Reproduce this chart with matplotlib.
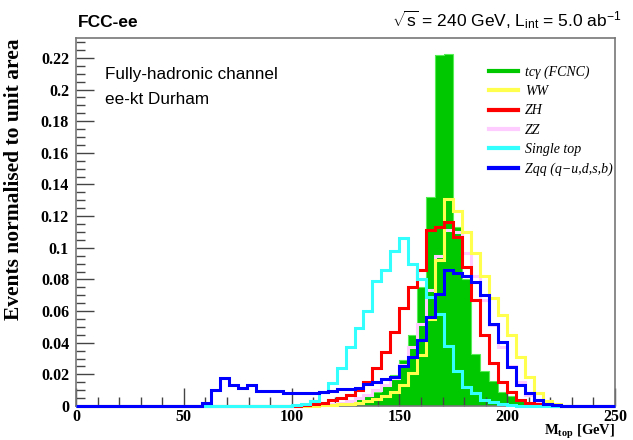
"""FCC-ee top mass distributions, fully-hadronic channel (60 bins, 0-250 GeV)."""

import matplotlib
matplotlib.use("Agg")
import matplotlib.pyplot as plt
import numpy as np

# === Histogram contents (bin k = [k*250/60, (k+1)*250/60]) ===
N_BINS = 60
X_MIN, X_MAX = 0, 250

tcgamma = [0, 0, 0, 0, 0, 0, 0, 0, 0, 0,
           0, 0, 0, 0, 0, 0, 0, 0, 0, 0,
           0, 0, 0, 0, 0, 0, 0, 0, 0.0005, 0.001,
           0.0027, 0.0045, 0.006, 0.009, 0.0133, 0.0196, 0.029, 0.045, 0.075, 0.132,
           0.2216, 0.2222, 0.113, 0.08, 0.033, 0.022, 0.0155, 0.009, 0.006, 0.003,
           0.0015, 0.0005, 0, 0, 0, 0, 0, 0, 0, 0]

ww = [0, 0, 0, 0, 0, 0, 0, 0, 0, 0,
      0, 0, 0, 0, 0, 0, 0, 0, 0, 0,
      0, 0, 0, 0, 0, 0, 0.0003, 0.0005, 0.0008, 0.001,
      0.0015, 0.002, 0.003, 0.0045, 0.006, 0.009, 0.013, 0.021, 0.032, 0.055,
      0.092, 0.1306, 0.123, 0.110, 0.097, 0.082, 0.068, 0.0575, 0.045, 0.031,
      0.0185, 0.008, 0.003, 0.001, 0, 0, 0, 0, 0, 0]

zh = [0, 0, 0, 0, 0, 0, 0, 0, 0, 0,
      0, 0, 0, 0, 0, 0, 0, 0, 0, 0,
      0, 0, 0, 0, 0, 0.0005, 0.001, 0.002, 0.0035, 0.005,
      0.007, 0.010, 0.015, 0.024, 0.034, 0.047, 0.062, 0.075, 0.086, 0.111,
      0.113, 0.116, 0.107, 0.088, 0.067, 0.045, 0.027, 0.0154, 0.009, 0.004,
      0.002, 0.001, 0.0005, 0, 0, 0, 0, 0, 0, 0]

zz = [0, 0, 0, 0, 0, 0, 0, 0, 0, 0,
      0, 0, 0, 0, 0, 0, 0, 0, 0, 0,
      0, 0, 0, 0, 0, 0, 0.0005, 0.001, 0.0015, 0.002,
      0.003, 0.005, 0.007, 0.010, 0.013, 0.018, 0.026, 0.037, 0.052, 0.073,
      0.095, 0.111, 0.110, 0.097, 0.082, 0.067, 0.051, 0.037, 0.025, 0.015,
      0.007, 0.003, 0.001, 0, 0, 0, 0, 0, 0, 0]

single_top = [0, 0, 0, 0, 0, 0, 0, 0, 0, 0,
              0, 0, 0, 0, 0, 0, 0, 0, 0, 0,
              0, 0, 0, 0, 0.0006, 0.0015, 0.003, 0.009, 0.0143, 0.0238,
              0.0375, 0.049, 0.060, 0.079, 0.086, 0.098, 0.106, 0.090, 0.080, 0.069,
              0.058, 0.038, 0.022, 0.012, 0.008, 0.004, 0.0025, 0.001, 0.0005, 0,
              0, 0, 0, 0, 0, 0, 0, 0, 0, 0]

zqq = [0, 0, 0, 0, 0, 0, 0, 0, 0, 0,
       0, 0, 0, 0, 0.002, 0.010, 0.018, 0.0133, 0.0112, 0.0133,
       0.0097, 0.0097, 0.0092, 0.0084, 0.0084, 0.008, 0.0082, 0.0086, 0.0097, 0.011,
       0.011, 0.0115, 0.0137, 0.015, 0.0169, 0.0185, 0.025, 0.031, 0.042, 0.0565,
       0.071, 0.086, 0.084, 0.082, 0.0786, 0.070, 0.052, 0.0406, 0.0249, 0.0133,
       0.008, 0.0038, 0.0013, 0.0006, 0.0003, 0, 0, 0, 0, 0]

LABELS = {
    "tcgamma": "tcγ (FCNC)",
    "ww": "WW",
    "zh": "ZH",
    "zz": "ZZ",
    "single_top": "Single top",
    "zqq": "Zqq (q−u,d,s,b)",
}
COLORS = {
    "tcgamma": "#00c800",
    "ww": "#ffff4d",
    "zh": "#ff0000",
    "zz": "#ffccff",
    "single_top": "#33ffff",
    "zqq": "#0000ff",
}

SERIF = "Liberation Serif"
SANS = "Liberation Sans"
plt.rcParams["mathtext.fontset"] = "custom"
plt.rcParams["mathtext.rm"] = SERIF + ":bold"
plt.rcParams["mathtext.bf"] = SERIF + ":bold"
plt.rcParams["mathtext.it"] = SERIF + ":italic"
plt.rcParams["mathtext.sf"] = SANS

edges = np.linspace(X_MIN, X_MAX, N_BINS + 1)

fig = plt.figure(figsize=(6.33, 4.40), dpi=100)
ax = fig.add_axes([0.1201, 0.0773, 0.8515, 0.8364])

LW = 2.2
ax.stairs(tcgamma, edges, fill=True, color=COLORS["tcgamma"], zorder=1)
ax.stairs(tcgamma, edges, color="#55ee55", lw=0.8, zorder=1.5)
line_order = ["zz", "ww", "zh", "single_top", "zqq"]
series = {"zz": zz, "ww": ww, "zh": zh, "single_top": single_top, "zqq": zqq}
for i, key in enumerate(line_order):
    ax.stairs(series[key], edges, color=COLORS[key], lw=LW, zorder=2 + i,
              clip_on=False)

ax.set_xlim(X_MIN, X_MAX)
ax.set_ylim(0, 0.2326)

ax.set_xticks(np.arange(0, 251, 50))
ax.set_xticks(np.arange(0, 251, 10), minor=True)
ax.set_yticks(np.arange(0, 0.221, 0.02))
ax.set_yticks(np.arange(0, 0.2326, 0.005), minor=True)
ax.set_yticklabels(["0"] + [f"{v:g}" for v in np.arange(0.02, 0.221, 0.02).round(2)])

ax.tick_params(which="both", direction="in", top=False, right=False, color="#444444")
ax.tick_params(which="major", length=13, width=1, labelsize=11.5)
ax.tick_params(axis="x", which="major", pad=2)
ax.tick_params(axis="y", which="major", pad=5)
ax.tick_params(which="minor", length=6.5, width=1)
for lab in ax.get_xticklabels() + ax.get_yticklabels():
    lab.set_family(SERIF)
    lab.set_fontweight("bold")

for sp in ax.spines.values():
    sp.set_color("#777777")
    sp.set_linewidth(1.2)

ax.set_ylabel("Events normalised to unit area", family=SERIF, fontweight="bold",
              fontsize=15.5, loc="top")
ax.yaxis.set_label_coords(-0.096, 1.0)
ax.set_xlabel(r"M$_{\mathbf{top}}$ [GeV]", family=SERIF, fontweight="bold",
              fontsize=10.5, loc="right")
ax.xaxis.set_label_coords(1.0, -0.045)

# header texts
fig.text(78 / 633, 1 - 27 / 440, "FCC-ee", family=SANS, fontweight="bold",
         fontsize=12.5, ha="left", va="baseline")
fig.text(622 / 633, 1 - 27 / 440,
         r"$\sqrt{\mathsf{s}}$ = 240 GeV, L$_{\mathsf{int}}$ = 5.0 ab$^{\mathsf{-1}}$",
         family=SANS, fontsize=12.5, ha="right", va="baseline")

ax.text(105 / 633, 1 - 75 / 440, "Fully-hadronic channel", transform=fig.transFigure,
        family=SANS, fontsize=12.3, ha="left", va="center")
ax.text(105 / 633, 1 - 100 / 440, "ee-kt Durham", transform=fig.transFigure,
        family=SANS, fontsize=12.3, ha="left", va="center")

# legend, no frame, rows like the ROOT TLegend
handles = [plt.Line2D([], [], color=COLORS[k], lw=3) for k in LABELS]
leg = ax.legend(handles, list(LABELS.values()), loc="upper left",
                bbox_to_anchor=(476 / 633, 1 - 53 / 440), bbox_transform=fig.transFigure,
                frameon=False, handlelength=2.1, handletextpad=0.55, labelspacing=0.45,
                prop={"family": SERIF, "style": "italic", "size": 10})

fig.savefig("out.png", dpi=100)
